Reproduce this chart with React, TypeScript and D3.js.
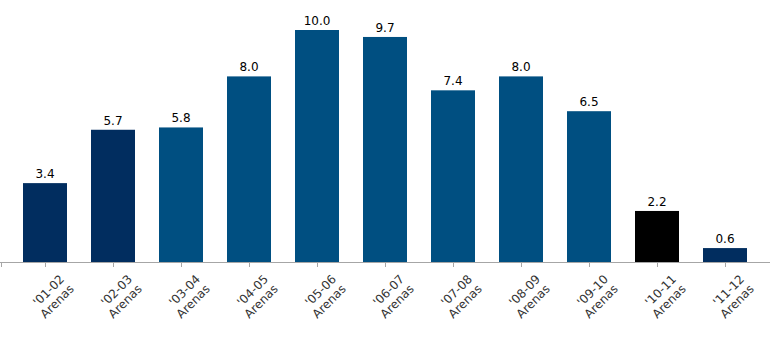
import React, { useRef, useEffect } from "react";
import * as d3 from "d3";

const seasons = ["'01-02", "'02-03", "'03-04", "'04-05", "'05-06", "'06-07", "'07-08", "'08-09", "'09-10", "'10-11", "'11-12"];
const values = [3.4, 5.7, 5.8, 8.0, 10.0, 9.7, 7.4, 8.0, 6.5, 2.2, 0.6];
const barColors = ["#012d5f", "#012d5f", "#004f81", "#004f81", "#004f81", "#004f81", "#004f81", "#004f81", "#004f81", "#000000", "#012d5f"];

const App = () => {
  const canvas = useRef<SVGSVGElement>(null);
  const width = 770;
  const height = 353;
  const baseY = 262;

  useEffect(() => {
    const svg = d3.select(canvas.current);
    svg.selectAll("*").remove();

    const x = d3.scaleBand().domain(seasons).range([11, 759]).paddingInner(24 / 68).paddingOuter(12 / 68);
    const y = d3.scaleLinear().domain([0, 10]).range([baseY, 30]);

    const g = svg.append("g");

    g.selectAll("rect.bar")
      .data(values)
      .enter()
      .append("rect")
      .attr("class", "bar")
      .attr("x", (d, i) => x(seasons[i])!)
      .attr("y", d => y(d))
      .attr("width", x.bandwidth())
      .attr("height", d => baseY - y(d))
      .attr("fill", (d, i) => barColors[i]);

    g.selectAll("text.val")
      .data(values)
      .enter()
      .append("text")
      .attr("class", "val")
      .attr("x", (d, i) => x(seasons[i])! + x.bandwidth() / 2)
      .attr("y", d => y(d) - 5)
      .attr("text-anchor", "middle")
      .style("font-family", "DejaVu Sans, sans-serif")
      .style("font-size", "12px")
      .attr("fill", "#000")
      .text(d => d.toFixed(1));

    // axis
    g.append("line")
      .attr("x1", 0).attr("x2", width)
      .attr("y1", baseY + 0.5).attr("y2", baseY + 0.5)
      .attr("stroke", "#a6a6a6");

    const tickXs = [1, ...seasons.map(s => x(s)! + x.bandwidth() / 2)];
    g.selectAll("line.tick")
      .data(tickXs)
      .enter()
      .append("line")
      .attr("class", "tick")
      .attr("x1", d => Math.round(d) + 0.5).attr("x2", d => Math.round(d) + 0.5)
      .attr("y1", baseY).attr("y2", baseY + 5)
      .attr("stroke", "#a6a6a6");

    const lbl = g.selectAll("text.lbl")
      .data(seasons)
      .enter()
      .append("text")
      .attr("class", "lbl")
      .attr("transform", d => `translate(${x(d)! + x.bandwidth() / 2 + 14},${baseY + 12}) rotate(-45)`)
      .attr("text-anchor", "end")
      .style("font-family", "DejaVu Sans, sans-serif")
      .style("font-size", "12px")
      .attr("fill", "#333");
    lbl.append("tspan").attr("x", 0).attr("dy", "0.7em").text(d => d);
    lbl.append("tspan").attr("x", 0).attr("dy", "1.15em").text("Arenas");
  }, []);

  return (
    <svg ref={canvas} width={width} height={height} style={{ position: "absolute", left: 0, top: 0 }}></svg>
  );
};

export default App;
